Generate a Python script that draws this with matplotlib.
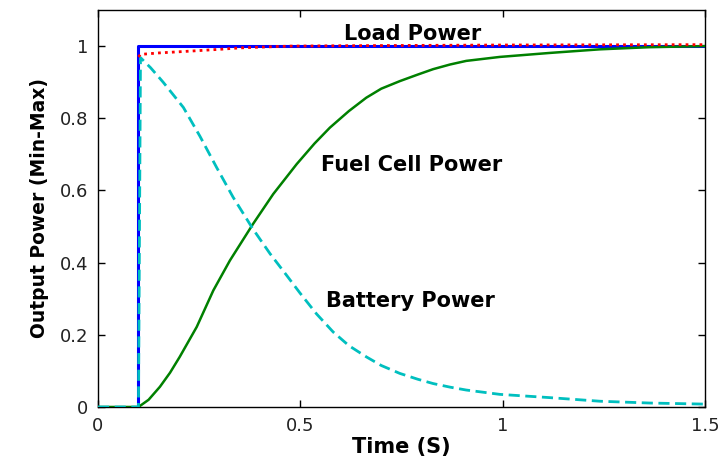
import matplotlib
matplotlib.use("Agg")
import matplotlib.pyplot as plt

# load power step
t_load = [0, 0.1, 0.1, 1.5]
p_load = [0, 0, 1, 1]

# reference / demand (red dotted)
t_ref = [0.1, 0.105, 0.15, 0.227, 0.3, 0.35, 0.474, 0.6, 0.8, 1.0, 1.5]
p_ref = [0.97, 0.977, 0.981, 0.986, 0.991, 0.995, 1.0, 1.001, 1.002, 1.003, 1.004]

# fuel cell power (green)
t_fc = [0, 0.1, 0.125, 0.153, 0.178, 0.202, 0.244, 0.285, 0.326, 0.383,
        0.433, 0.491, 0.535, 0.573, 0.62, 0.663, 0.70, 0.746, 0.79, 0.828,
        0.87, 0.910, 0.993, 1.116, 1.24, 1.363, 1.5]
p_fc = [0, 0, 0.02, 0.056, 0.095, 0.139, 0.222, 0.323, 0.406, 0.507,
        0.590, 0.673, 0.73, 0.774, 0.82, 0.857, 0.882, 0.903, 0.921, 0.936,
        0.949, 0.959, 0.970, 0.981, 0.991, 0.997, 1.0]

# battery power (cyan dashed)
t_bat = [0, 0.1, 0.105, 0.13, 0.161, 0.211, 0.252, 0.293, 0.334, 0.383,
         0.425, 0.466, 0.499, 0.54, 0.581, 0.62, 0.663, 0.70, 0.746, 0.79,
         0.828, 0.87, 0.910, 0.993, 1.116, 1.24, 1.363, 1.5]
p_bat = [0, 0, 0.968, 0.94, 0.900, 0.830, 0.750, 0.664, 0.581, 0.493,
         0.425, 0.365, 0.316, 0.258, 0.208, 0.170, 0.139, 0.115, 0.093, 0.077,
         0.065, 0.055, 0.047, 0.035, 0.026, 0.016, 0.011, 0.008]

xticks = [0, 0.5, 1, 1.5]
xtick_labels = ["0", "0.5", "1", "1.5"]
yticks = [0, 0.2, 0.4, 0.6, 0.8, 1]
ytick_labels = ["0", "0.2", "0.4", "0.6", "0.8", "1"]

fig = plt.figure(figsize=(7.2, 4.57), dpi=100)
ax = fig.add_axes([98 / 720, 50 / 457, 607 / 720, 397 / 457])

ax.plot(t_load, p_load, color="#0000ff", lw=2.2, zorder=2)
ax.plot(t_fc, p_fc, color="#008000", lw=1.8, zorder=3)
ax.plot(t_bat, p_bat, color="#00bfbf", lw=2.0, linestyle=(0, (4, 2)), zorder=4)
ax.plot(t_ref, p_ref, color="#ff0000", lw=2.0, linestyle=(0, (1, 1.5)), zorder=5)

ax.set_xlim(0, 1.5)
ax.set_ylim(0, 1.1)
ax.set_xticks(xticks)
ax.set_xticklabels(xtick_labels)
ax.set_yticks(yticks)
ax.set_yticklabels(ytick_labels)
ax.tick_params(direction="in", length=5, width=1, top=True, right=True,
               labelsize=13, labelcolor="#222222", pad=7)
for s in ax.spines.values():
    s.set_linewidth(1)

lab = dict(fontsize=15, fontweight="bold", family="DejaVu Sans",
           ha="center", va="center")
ax.text(0.778, 1.033, "Load Power", **lab)
ax.text(0.774, 0.67, "Fuel Cell Power", **lab)
ax.text(0.773, 0.294, "Battery Power", **lab)

ax.set_xlabel("Time (S)", fontsize=15, fontweight="bold", labelpad=2)
ax.set_ylabel("Output Power (Min-Max)", fontsize=13.5, fontweight="bold",
              labelpad=8)

fig.savefig("out.png", dpi=100)
